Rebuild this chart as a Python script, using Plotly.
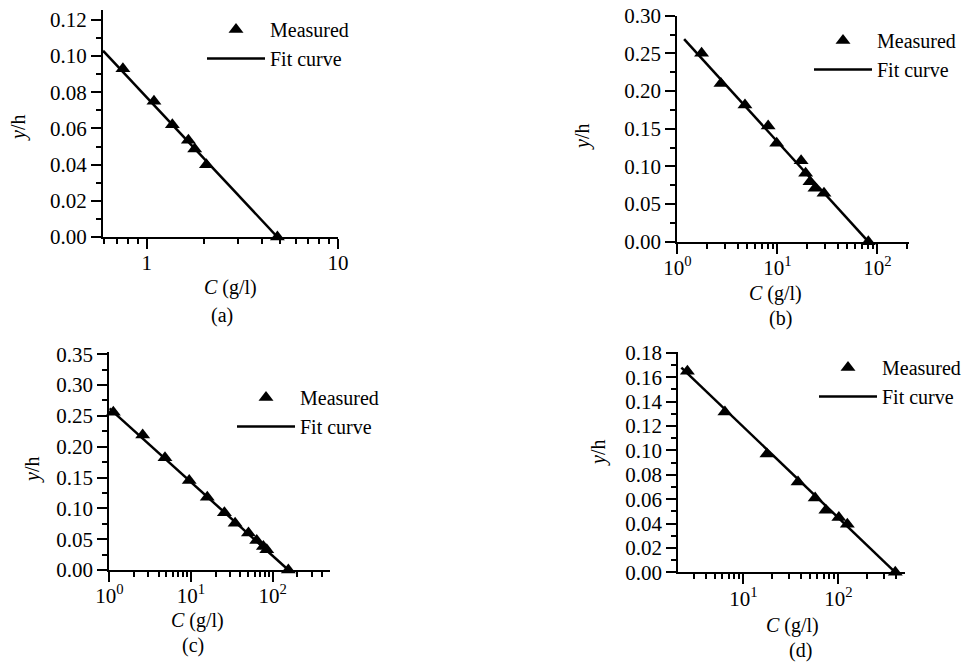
import math
import plotly.graph_objects as go

# ---------------- data ----------------
meas_a_c = [0.75, 1.09, 1.36, 1.65, 1.78, 2.05, 4.82]
meas_a_y = [0.093, 0.075, 0.062, 0.0535, 0.0487, 0.040, 0.0]
fit_a_c = [0.59, 4.82]
fit_a_y = [0.103, 0.0]

meas_b_c = [1.75, 2.73, 4.75, 8.1, 9.86, 17.3, 19.2, 21.2, 23.8, 29.3, 81.3]
meas_b_y = [0.250, 0.210, 0.1815, 0.1536, 0.1306, 0.1076, 0.0908, 0.0797, 0.0709, 0.0642, 0.0]
fit_b_c = [1.17, 81.3]
fit_b_y = [0.269, 0.0]

meas_c_c = [1.12, 2.56, 4.8, 9.5, 15.8, 25.6, 34.6, 50.4, 63.6, 76.7, 84.4, 155]
meas_c_y = [0.256, 0.219, 0.182, 0.145, 0.118, 0.093, 0.076, 0.060, 0.048, 0.038, 0.033, 0.0]
fit_c_c = [1.0, 155]
fit_c_y = [0.262, 0.0]

meas_d_c = [2.58, 6.4, 17.7, 37.6, 56.9, 73.8, 101, 124, 396]
meas_d_y = [0.165, 0.1316, 0.097, 0.074, 0.061, 0.051, 0.045, 0.0394, 0.0]
fit_d_c = [2.23, 396]
fit_d_y = [0.168, 0.0]

xtick_vals_a = [1, 10]
xtick_text_a = ["1", "10"]
xtick_vals_log = [1, 10, 100]
xtick_text_log = ["10<sup>0</sup>", "10<sup>1</sup>", "10<sup>2</sup>"]
minor_a = [0.6, 0.7, 0.8, 0.9, 2, 3, 4, 5, 6, 7, 8, 9]
minor_b = [2, 3, 4, 5, 6, 7, 8, 9, 20, 30, 40, 50, 60, 70, 80, 90, 200]
minor_c = [2, 3, 4, 5, 6, 7, 8, 9, 20, 30, 40, 50, 60, 70, 80, 90, 200, 300, 400]
minor_d = [3, 4, 5, 6, 7, 8, 9, 20, 30, 40, 50, 60, 70, 80, 90, 200, 300, 400]
panel_labels = ["(a)", "(b)", "(c)", "(d)"]

FONT = "Liberation Serif, Times New Roman, serif"
W, H = 979, 666

fig = go.Figure()

panels = [
    dict(mc=meas_a_c, my=meas_a_y, fc=fit_a_c, fy=fit_a_y),
    dict(mc=meas_b_c, my=meas_b_y, fc=fit_b_c, fy=fit_b_y),
    dict(mc=meas_c_c, my=meas_c_y, fc=fit_c_c, fy=fit_c_y),
    dict(mc=meas_d_c, my=meas_d_y, fc=fit_d_c, fy=fit_d_y),
]
legend_ids = ["legend", "legend2", "legend3", "legend4"]

for i, p in enumerate(panels):
    xa = "x" if i == 0 else f"x{i+1}"
    ya = "y" if i == 0 else f"y{i+1}"
    fig.add_trace(go.Scatter(
        x=p["mc"], y=p["my"], mode="markers", name="Measured",
        marker=dict(symbol="triangle-up", size=13, color="black"),
        xaxis=xa, yaxis=ya, legend=legend_ids[i], cliponaxis=False))
    fig.add_trace(go.Scatter(
        x=p["fc"], y=p["fy"], mode="lines", name="Fit curve",
        line=dict(color="black", width=2.5),
        xaxis=xa, yaxis=ya, legend=legend_ids[i], cliponaxis=False))

def px_x(v):
    return v / W

def px_y(v):
    return 1 - v / H

# domains in pixels: (left, right, top, bottom)
dom = [
    (103, 338, 10, 237),
    (677.3, 909.3, 15.7, 241.7),
    (109.3, 330, 352, 570),
    (678.3, 905, 351.7, 572.3),
]
xranges = [[math.log10(0.59), 1.0], [0, 2.32], [0, 2.70], [0.316, 2.70]]
yranges = [[0, 0.1255], [0, 0.30], [0, 0.3535], [0, 0.181]]
ydticks = [0.02, 0.05, 0.05, 0.02]
minors = [minor_a, minor_b, minor_c, minor_d]

common_axis = dict(
    showline=True, linecolor="black", linewidth=2, mirror=False,
    ticks="outside", ticklen=10, tickwidth=2, tickcolor="black",
    showgrid=False, zeroline=False, automargin=False,
    tickfont=dict(family=FONT, size=21, color="black"),
)

layout = {}
for i in range(4):
    l, r, t, b = dom[i]
    xk = "xaxis" if i == 0 else f"xaxis{i+1}"
    yk = "yaxis" if i == 0 else f"yaxis{i+1}"
    ya = "y" if i == 0 else f"y{i+1}"
    xa = "x" if i == 0 else f"x{i+1}"
    if i == 0:
        tv, tt = xtick_vals_a, xtick_text_a
    else:
        tv, tt = xtick_vals_log, xtick_text_log
    layout[xk] = dict(
        common_axis, type="log", range=xranges[i], domain=[px_x(l), px_x(r)],
        anchor=ya, tickmode="array", tickvals=tv, ticktext=tt,
        ticklabelstandoff=-4,
        minor=dict(ticks="outside", ticklen=5, tickwidth=1.5, tickcolor="black",
                   tickmode="array", tickvals=minors[i], showgrid=False),
    )
    layout[yk] = dict(
        common_axis, range=yranges[i], domain=[px_y(b), px_y(t)],
        anchor=xa, dtick=ydticks[i], tick0=0, tickformat=".2f",
        minor=dict(ticks="outside", ticklen=5, tickwidth=1.5, tickcolor="black",
                   dtick=ydticks[i] / 2, showgrid=False),
    )

# legends: (text left px, first row center px)
leg_pos = [(272, 32), (879, 43), (302, 400), (884, 370)]
for i, (tx, ty) in enumerate(leg_pos):
    layout[legend_ids[i]] = dict(
        x=px_x(tx - 70), y=px_y(ty - 22), xanchor="left", yanchor="top",
        bgcolor="rgba(0,0,0,0)", borderwidth=0, itemwidth=58,
        font=dict(family=FONT, size=20, color="black"), tracegroupgap=0,
    )

# annotations for axis titles and panel labels (pixel positions)
ylab = [(18, 128), (583, 137), (32, 470), (598, 453)]
xlab = [(230, 287), (775, 293), (197, 620), (792, 625)]
plab = [(222, 315), (780, 318), (193, 645), (800, 650)]
ann = []
for i in range(4):
    base = dict(xref="paper", yref="paper", showarrow=False,
                xanchor="center", yanchor="middle",
                font=dict(family=FONT, size=20, color="black"))
    ann.append(dict(base, text="<i>y</i>/h", x=px_x(ylab[i][0]), y=px_y(ylab[i][1]),
                    textangle=-90))
    ann.append(dict(base, text="<i>C</i> (g/l)", x=px_x(xlab[i][0]), y=px_y(xlab[i][1])))
    ann.append(dict(base, text=panel_labels[i], x=px_x(plab[i][0]), y=px_y(plab[i][1])))

fig.update_layout(
    width=W, height=H, margin=dict(l=0, r=0, t=0, b=0, autoexpand=False),
    paper_bgcolor="white", plot_bgcolor="white",
    showlegend=True, annotations=ann, **layout,
)

fig.write_html("out.html", post_script="document.body.style.margin='0';",
               config={"displayModeBar": False})
